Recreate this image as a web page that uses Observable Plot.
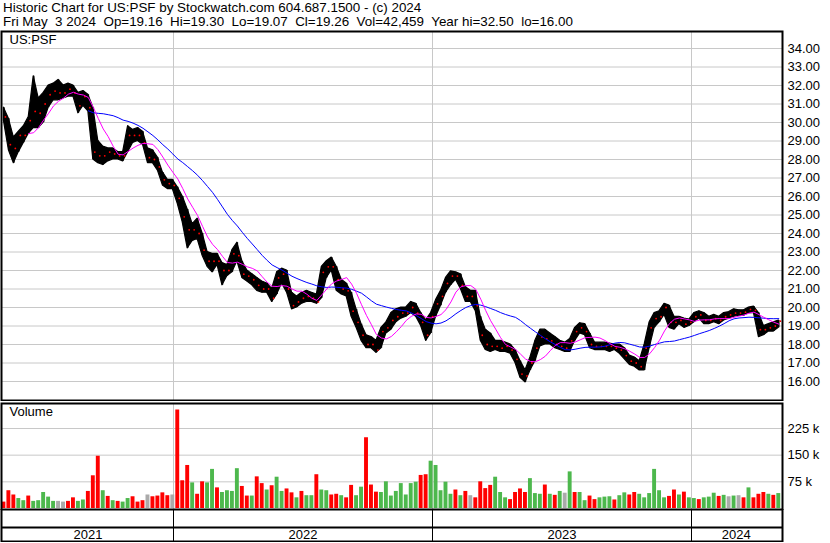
<!DOCTYPE html>
<html><head><meta charset="utf-8">
<script src="https://cdn.jsdelivr.net/npm/d3@7"></script>
<script src="https://cdn.jsdelivr.net/npm/@observablehq/plot@0.6"></script>
<style>
html,body{margin:0;padding:0;background:#fff;}
#chart{position:relative;width:830px;height:543px;overflow:hidden;font-family:"Liberation Sans",Arial,sans-serif;color:#000;background:#fff;}
.hdr{position:absolute;left:3px;font-size:13.4px;line-height:1;white-space:pre;}
.panel{position:absolute;left:0;}
</style></head><body>
<div id="chart">
<div class="hdr" id="t1" style="top:0.6px"></div>
<div class="hdr" id="t2" style="top:14.8px"></div>
<div class="panel" id="price" style="top:29px"></div>
<div class="panel" id="vol" style="top:401px"></div>
<div class="panel" id="axA" style="top:509px"></div>
<div class="panel" id="axB" style="top:527px"></div>
</div>
<script>
const title = "Historic Chart for US:PSF by Stockwatch.com 604.687.1500 - (c) 2024";
const subtitle = "Fri May  3 2024  Op=19.16  Hi=19.30  Lo=19.07  Cl=19.26  Vol=42,459  Year hi=32.50  lo=16.00";
const symbol = "US:PSF";
const volumeLabel = "Volume";

// weekly bars, first week ending Fri 2021-05-07, one entry per week
const firstWeek = "2021-05-07";
const weekHigh = [
30.8,30.2,29.2,29.5,29.8,30.3,32.5,31.3,31.6,32.0,
32.1,32.3,32.0,32.1,32.0,31.6,31.7,31.5,30.8,29.0,
28.7,28.6,28.6,28.4,28.4,29.8,29.6,29.7,29.5,28.6,
28.5,28.1,27.3,26.9,26.9,26.5,26.0,25.3,24.5,24.8,
24.0,23.0,22.9,22.9,22.4,22.3,23.1,23.5,22.5,22.0,
21.8,21.6,21.4,21.3,21.0,21.9,22.1,22.0,20.8,20.6,
20.8,20.9,20.8,20.7,22.2,22.5,22.7,22.2,21.5,21.3,
20.8,19.9,19.1,18.5,18.4,18.2,18.9,19.2,19.7,19.9,
20.0,20.0,20.3,20.2,19.7,19.3,19.7,20.4,20.9,21.6,
21.95,21.9,21.8,21.1,20.9,20.9,19.5,18.8,18.6,18.2,
18.2,18.1,18.0,17.7,17.1,16.6,17.3,18.2,18.8,18.8,
18.6,18.4,18.2,18.1,18.3,18.9,19.15,19.1,18.6,18.1,
18.1,18.1,18.05,18.0,18.0,17.8,17.4,17.3,17.1,18.0,
19.2,19.7,19.8,20.2,20.1,19.5,19.5,19.4,19.35,19.7,
19.8,19.7,19.5,19.6,19.5,19.7,19.75,19.9,19.85,19.85,
20.0,20.05,19.7,19.0,19.1,19.2,19.3];
const weekLow = [
30.1,28.5,27.8,28.4,28.9,29.4,29.7,29.7,30.0,30.8,
31.2,31.2,31.3,31.4,31.4,30.5,30.9,30.6,28.0,27.8,
27.7,27.9,28.0,28.0,27.9,28.4,28.9,29.0,28.8,27.8,
27.8,27.4,26.6,26.4,26.4,25.6,24.6,23.2,23.6,23.7,
22.8,22.2,21.9,22.3,21.2,21.7,21.9,22.5,21.6,21.4,
21.2,20.9,20.8,20.8,20.3,20.7,21.3,20.8,19.9,20.0,
20.2,20.3,20.3,20.2,20.5,21.6,22.0,20.9,20.7,20.6,
19.5,18.9,18.2,17.8,17.8,17.55,17.8,18.6,18.8,19.2,
19.4,19.5,19.7,19.5,19.0,18.2,18.6,19.5,20.1,20.8,
21.2,21.5,21.0,20.3,20.3,19.8,18.2,17.7,17.6,17.7,
17.6,17.6,17.5,17.0,16.2,15.95,16.6,17.1,17.9,18.0,
18.0,17.8,17.7,17.6,17.6,18.2,18.6,18.5,17.8,17.7,
17.7,17.7,17.6,17.7,17.5,17.2,16.9,16.8,16.6,16.6,
17.8,18.9,19.2,19.6,18.9,18.8,19.1,18.9,19.0,19.2,
19.4,19.1,19.1,19.2,19.1,19.3,19.4,19.5,19.55,19.55,
19.7,19.7,18.4,18.5,18.7,18.7,18.9];
const weekClose = [
30.3,28.8,28.6,29.3,29.3,30.1,30.6,30.5,31.0,31.5,
31.7,31.6,31.6,31.8,31.6,30.9,31.4,30.8,28.4,28.2,
28.2,28.4,28.3,28.2,28.2,29.3,29.3,29.3,28.9,28.1,
28.0,27.6,26.9,26.7,26.6,25.9,24.9,24.2,24.2,24.0,
23.1,22.5,22.5,22.5,22.0,22.0,22.9,22.8,21.8,21.7,
21.5,21.2,21.0,21.0,20.5,21.6,21.8,21.0,20.1,20.3,
20.5,20.6,20.5,20.3,21.9,22.2,22.2,21.5,21.0,20.9,
19.8,19.2,18.5,18.0,18.0,17.7,18.7,18.9,19.3,19.5,
19.7,19.7,20.0,19.7,19.2,18.5,19.5,20.2,20.6,21.3,
21.7,21.7,21.2,20.6,20.6,20.1,18.5,18.0,17.9,17.9,
17.8,17.9,17.7,17.2,16.4,16.3,17.0,17.8,18.4,18.3,
18.2,18.0,17.9,17.8,18.2,18.7,18.9,18.7,18.0,17.9,
17.9,17.9,17.9,17.8,17.7,17.4,17.1,17.0,16.8,17.8,
18.9,19.4,19.5,20.0,19.2,19.2,19.3,19.1,19.2,19.5,
19.6,19.3,19.3,19.4,19.3,19.5,19.6,19.7,19.7,19.75,
19.9,19.85,18.8,18.8,18.9,19.0,19.26];
// volume in thousands of shares
const weekVolumeK = [
18,50,38,28,22,35,20,22,45,32,
20,20,18,20,30,20,24,48,92,147,
50,34,22,20,18,28,33,18,22,38,
33,35,44,36,38,277,78,121,72,40,
75,72,110,58,45,50,48,112,62,35,
35,89,70,52,64,88,48,55,44,30,
48,36,36,95,52,50,38,40,36,30,
65,36,60,199,66,46,45,75,35,48,
70,38,70,74,93,95,133,121,50,74,
40,52,36,48,36,30,75,56,65,88,
45,30,25,45,55,45,84,42,40,66,
40,37,48,43,103,45,45,22,35,25,
30,32,33,24,36,44,38,45,40,30,
42,110,50,30,34,52,38,46,30,28,
25,30,32,43,34,37,33,35,36,30,
58,30,40,45,40,37,42];
// r = down, g = up, n = unchanged
const weekDirection = ("rrrggrgggg" + "gnnrrggrrr" + "grgrggrrrn" + "rrrrnrrrgr" + "rggrggggrr" +
  "grrgrggrrg" + "rggrggrrgr" + "rggrrrgggg" + "ggggrrgggg" + "grgrnrrrrg" +
  "ggrrrrgggr" + "grgngrggrr" + "gggrggrrgg" + "ggggrrgrgg" + "rgggrgngnr" + "grrrgrg").split("");

const priceTicks = [16,17,18,19,20,21,22,23,24,25,26,27,28,29,30,31,32,33,34];
const volumeTicks = [75000,150000,225000];
const yearStarts = ["2022-01-01","2023-01-01","2024-01-01"];
const yearLabels = ["2021","2022","2023","2024"];
const viewStart = "2021-05-05", viewEnd = "2024-05-06";
const dirColors = {r:"#ff0000", g:"#4db84d", n:"#aaaaaa"};

document.getElementById("t1").textContent = title;
document.getElementById("t2").textContent = subtitle;

const start = new Date(firstWeek);
const weeks = weekHigh.map((h, i) => ({
  date: d3.utcDay.offset(start, 7 * i), high: h, low: weekLow[i], close: weekClose[i],
  volume: weekVolumeK[i] * 1000, dir: weekDirection[i]
}));
const bounds = yearStarts.map(s => new Date(s));
const edges = [new Date(viewStart), ...bounds, new Date(viewEnd)];
const yearMarks = yearLabels.map((y, i) => ({label: y, date: new Date((+edges[i] + +edges[i + 1]) / 2)}));

const style = {background: "transparent", fontFamily: "Liberation Sans, Arial, sans-serif", fontSize: "13px", color: "#000", overflow: "hidden"};
const common = {
  width: 830, marginLeft: 1, marginRight: 48,
  x: {type: "utc", domain: [bounds[0], bounds[2]], range: [173, 691], axis: null},
  style
};
const grid = {stroke: "#c8c8c8", strokeOpacity: 1, strokeWidth: 1};
const frame = Plot.frame({stroke: "#000", strokeWidth: 2});

const price = Plot.plot({
  ...common, height: 372, marginTop: 2, marginBottom: 1,
  y: {domain: [16, 34], range: [352, 19]},
  marks: [
    Plot.gridY(priceTicks, grid),
    Plot.gridX(bounds, grid),
    Plot.areaY(weeks, {x: "date", y1: "low", y2: "high", fill: "#000", stroke: "#000", strokeWidth: 1.2, curve: "linear"}),
    Plot.ruleX(weeks, {x: "date", y1: "low", y2: "high", stroke: "#000", strokeWidth: 1.5}),
    Plot.dot(weeks, {x: "date", y: "close", r: 0.9, fill: "#ff0000", dx: 1.5}),
    Plot.lineY(weeks, Plot.windowY({k: 18, anchor: "end", strict: true}, {x: "date", y: "close", stroke: "#0000ff", strokeWidth: 1})),
    Plot.lineY(weeks, Plot.windowY({k: 6, anchor: "end", strict: true}, {x: "date", y: "close", stroke: "#ff00ff", strokeWidth: 1})),
    Plot.axisY(priceTicks, {anchor: "right", tickSize: 0, tickPadding: 5, tickFormat: d => d.toFixed(2), label: null, fontSize: 13}),
    Plot.text([symbol], {frameAnchor: "top-left", dx: 8, dy: 3, lineAnchor: "top", textAnchor: "start", fontSize: 13}),
    frame
  ]
});
document.getElementById("price").append(price);

const vol = Plot.plot({
  ...common, height: 109, marginTop: 2, marginBottom: 1,
  y: {domain: [0, 225000], range: [107, 27]},
  color: {type: "identity"},
  marks: [
    Plot.gridY(volumeTicks, grid),
    Plot.gridX(bounds, grid),
    Plot.rect(weeks, {x1: d => d3.utcHour.offset(d.date, -66), x2: d => d3.utcHour.offset(d.date, 66), y1: 0, y2: "volume", fill: d => dirColors[d.dir]}),
    Plot.axisY(volumeTicks, {anchor: "right", tickSize: 0, tickPadding: 5, tickFormat: d => `${d / 1000} k`, label: null, fontSize: 13}),
    Plot.text([volumeLabel], {frameAnchor: "top-left", dx: 8, dy: 3, lineAnchor: "top", textAnchor: "start", fontSize: 13}),
    frame
  ]
});
document.getElementById("vol").append(vol);

const axA = Plot.plot({
  ...common, height: 18, marginTop: 0, marginBottom: 0,
  marks: [Plot.ruleX(bounds, {stroke: "#000", strokeWidth: 1}), frame]
});
document.getElementById("axA").append(axA);

const axB = Plot.plot({
  ...common, height: 15, marginTop: 0, marginBottom: 1,
  marks: [
    Plot.ruleX(bounds, {stroke: "#000", strokeWidth: 1}),
    Plot.text(yearMarks, {x: "date", text: "label", frameAnchor: "middle", fontSize: 13}),
    frame
  ]
});
document.getElementById("axB").append(axB);
</script>
</body></html>
